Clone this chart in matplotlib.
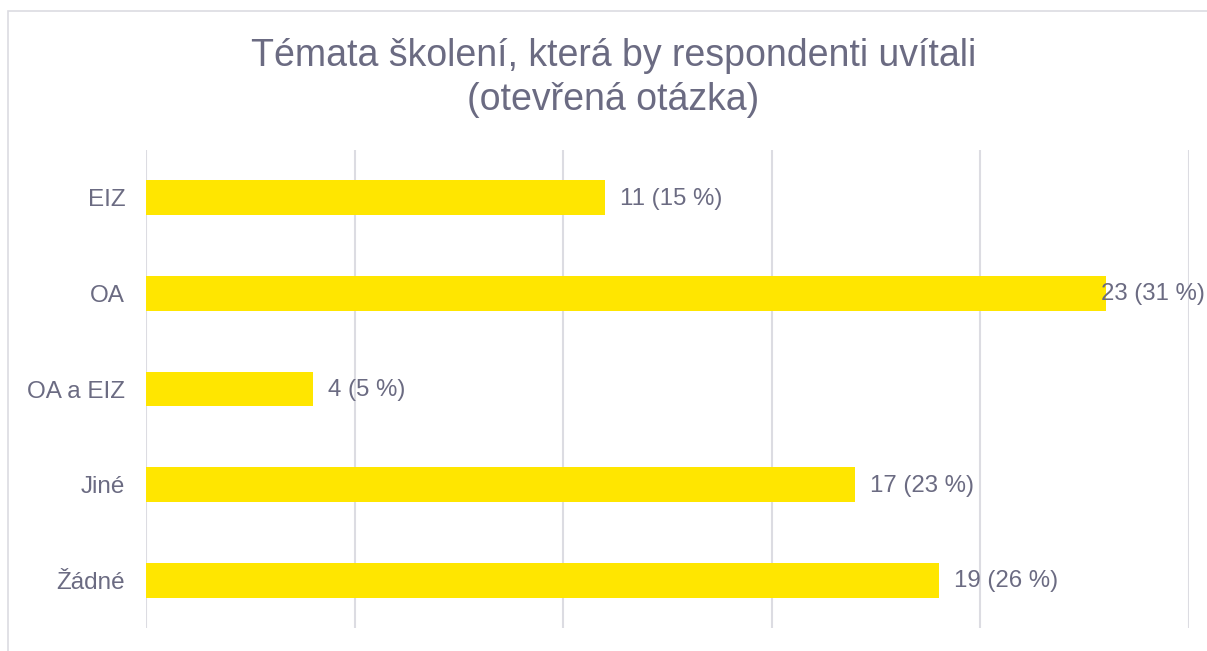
import matplotlib.pyplot as plt
from matplotlib.patches import Rectangle

plt.rcParams['font.family'] = ['Liberation Sans', 'DejaVu Sans']

# Data
kategorie = ["EIZ", "OA", "OA a EIZ", "Jiné", "Žádné"]
pocty = [11, 23, 4, 17, 19]
procenta = [15, 31, 5, 23, 26]

text_barva = "#6b6b82"
zluta = "#ffe600"
mrizka = "#dcdce2"

fig = plt.figure(figsize=(12.07, 6.51), dpi=100)
fig.patches.append(Rectangle((8 / 1207, -0.1), 1.2, (651 - 11) / 651 + 0.1,
                             transform=fig.transFigure, fill=False,
                             edgecolor=mrizka, linewidth=1.2))

ax = fig.add_axes([146 / 1207, 23 / 651, (1189 - 146) / 1207, (628 - 150) / 651])

y = list(range(len(kategorie)))
ax.barh(y, pocty, height=0.365, color=zluta, zorder=3)
ax.set_ylim(len(kategorie) - 0.5, -0.5)
ax.set_xlim(0, 25)
ax.set_xticks(range(0, 26, 5))
ax.set_xticklabels([])
ax.set_yticks(y)
ax.set_yticklabels(kategorie, fontsize=17.5, color=text_barva)
ax.tick_params(axis='both', length=0)
ax.tick_params(axis='y', pad=15)
ax.grid(axis='x', color=mrizka, linewidth=1.5, zorder=0)
for s in ax.spines.values():
    s.set_visible(False)

for i, (n, p) in enumerate(zip(pocty, procenta)):
    popis = f"{n} ({p} %)"
    if n == max(pocty):
        # nejdelší sloupec: popisek přitlačit k pravému okraji obrázku
        fig.text(1 - 2 / 1207, 0, popis, transform=fig.transFigure, ha='right',
                 va='center', fontsize=17.3, color=text_barva, zorder=5)
        t = fig.texts[-1]
        t.set_y(ax.transData.transform((n, i))[1] / fig.bbox.height - 1 / 651)
    else:
        ax.annotate(popis, (n, i), xytext=(15, -1), textcoords='offset pixels',
                    va='center', ha='left', fontsize=17.3, color=text_barva,
                    annotation_clip=False)

fig.text(0.508, 1 - 78 / 651, "Témata školení, která by respondenti uvítali\n(otevřená otázka)",
         ha='center', va='center', fontsize=27, color=text_barva, linespacing=1.3)

fig.savefig("out.png", dpi=100)
